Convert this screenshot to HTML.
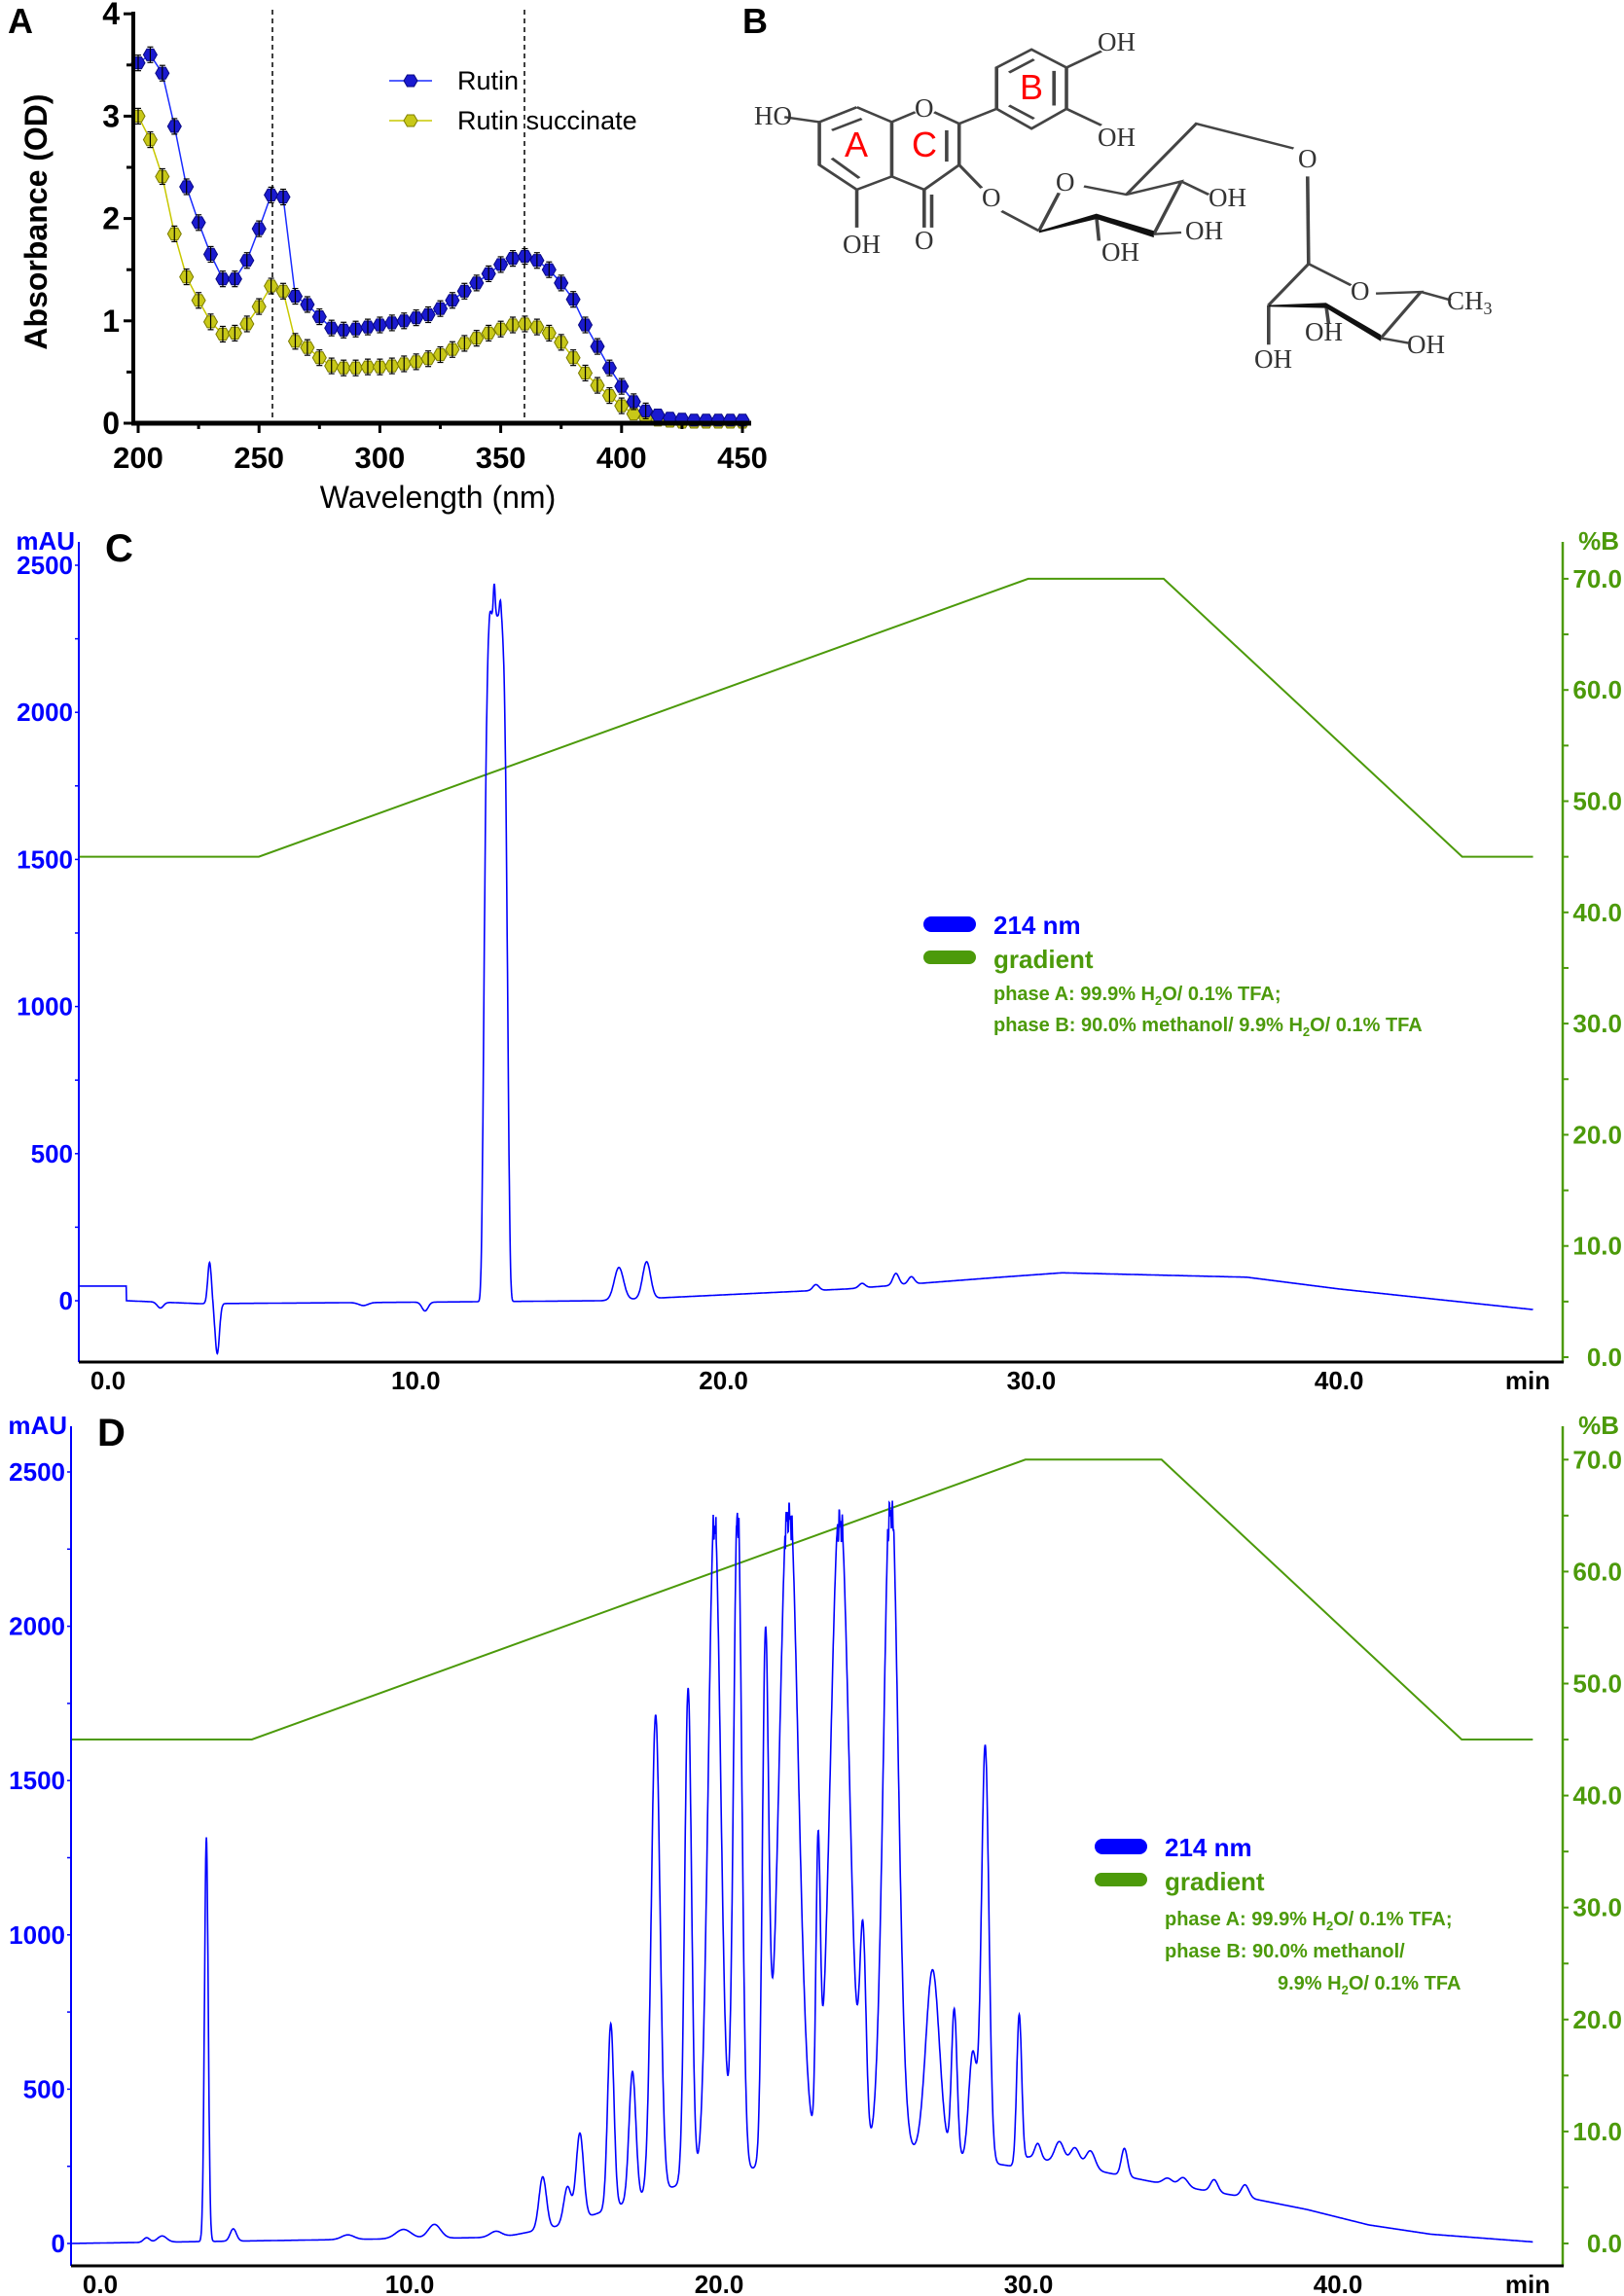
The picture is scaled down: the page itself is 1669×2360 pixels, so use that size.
<!DOCTYPE html>
<html><head><meta charset="utf-8"><style>
html,body{margin:0;padding:0;background:#fff}
svg{display:block}
.ser{font-family:"Liberation Serif",serif;fill:#333;font-size:27px}
.tk{font-family:"Liberation Sans",sans-serif;font-weight:bold}
</style></head><body>
<svg id="s" width="1669" height="2360" viewBox="0 0 1669 2360" xmlns="http://www.w3.org/2000/svg">
<rect width="1669" height="2360" fill="#fff"/>
<text x="8" y="34" font-family="Liberation Sans" font-weight="bold" font-size="36">A</text>
<g id="A"></g>
<text transform="translate(48,228) rotate(-90)" text-anchor="middle" font-family="Liberation Sans" font-weight="bold" font-size="32">Absorbance (OD)</text>
<text x="450" y="522" text-anchor="middle" font-family="Liberation Sans" font-size="32">Wavelength (nm)</text>
<line x1="400" y1="83" x2="444" y2="83" stroke="#1a2cff" stroke-width="1.5"/>
<polygon points="415,83 418.5,77 425.5,77 429,83 425.5,89 418.5,89" fill="#1a1ad0" stroke="#0a0a80"/>
<line x1="400" y1="124" x2="444" y2="124" stroke="#c8c800" stroke-width="1.5"/>
<polygon points="415,124 418.5,118 425.5,118 429,124 425.5,130 418.5,130" fill="#c8c818" stroke="#808000"/>
<text x="470" y="92" font-family="Liberation Sans" font-size="27">Rutin</text>
<text x="470" y="133" font-family="Liberation Sans" font-size="27">Rutin succinate</text>
<text x="763" y="34" font-family="Liberation Sans" font-weight="bold" font-size="36">B</text>
<g transform="translate(760,0) scale(0.513,0.339)" stroke="#444" stroke-width="7" fill="none">
<polyline points="235,325 160,370 160,500 235,575 305,535 305,370 235,325"/>
<polyline points="305,370 352,340"/><polyline points="390,340 440,375 440,500 370,575 305,535"/>
<line x1="245" y1="360" x2="185" y2="395"/><line x1="185" y1="480" x2="240" y2="540"/><line x1="415" y1="395" x2="415" y2="490"/>
<line x1="370" y1="575" x2="370" y2="690"/><line x1="385" y1="590" x2="385" y2="690"/>
<line x1="235" y1="575" x2="235" y2="690"/><line x1="160" y1="370" x2="90" y2="355"/>
<polyline points="440,375 515,330 515,205 585,150 655,205 655,330 585,390 515,330"/>
<line x1="540" y1="220" x2="590" y2="180"/><line x1="630" y1="215" x2="630" y2="320"/><line x1="590" y1="360" x2="540" y2="320"/>
<line x1="655" y1="205" x2="725" y2="155"/><line x1="655" y1="330" x2="725" y2="380"/>
<line x1="440" y1="500" x2="485" y2="570"/><line x1="525" y1="640" x2="600" y2="700"/>
<polyline points="600,700 640,585"/><polyline points="690,565 775,590 885,550 830,710"/>
<line x1="885" y1="550" x2="940" y2="590"/><line x1="830" y1="710" x2="885" y2="705"/><line x1="715" y1="655" x2="720" y2="730"/>
<polyline points="775,590 915,375 1110,450"/><line x1="1138" y1="535" x2="1140" y2="800"/>
<polyline points="1060,925 1140,800 1225,865"/><polyline points="1275,890 1365,885 1285,1025"/>
<line x1="1365" y1="885" x2="1425" y2="910"/>
<line x1="1060" y1="925" x2="1060" y2="1045"/><line x1="1175" y1="925" x2="1180" y2="980"/><line x1="1285" y1="1025" x2="1340" y2="1040"/>
</g>
<g transform="translate(760,0) scale(0.513,0.339)" fill="#111">
<polygon points="600,700 715,648 830,700 830,720 715,664 600,706"/>
<polygon points="1060,925 1175,918 1285,1015 1285,1035 1175,934 1060,930"/>
</g>
<text class="ser" x="775" y="128">HO</text>
<text class="ser" x="940" y="120">O</text>
<text class="ser" x="1128" y="52">OH</text>
<text class="ser" x="1128" y="150">OH</text>
<text class="ser" x="866" y="260">OH</text>
<text class="ser" x="940" y="256">O</text>
<text class="ser" x="1009" y="212">O</text>
<text class="ser" x="1085" y="196">O</text>
<text class="ser" x="1242" y="212">OH</text>
<text class="ser" x="1218" y="246">OH</text>
<text class="ser" x="1132" y="268">OH</text>
<text class="ser" x="1334" y="172">O</text>
<text class="ser" x="1388" y="308">O</text>
<text class="ser" x="1487" y="318">CH<tspan font-size="18" dy="5">3</tspan></text>
<text class="ser" x="1341" y="350">OH</text>
<text class="ser" x="1289" y="378">OH</text>
<text class="ser" x="1446" y="363">OH</text>
<text x="880" y="161" fill="#ff0000" font-family="Liberation Sans" font-size="36" text-anchor="middle">A</text>
<text x="950" y="161" fill="#ff0000" font-family="Liberation Sans" font-size="36" text-anchor="middle">C</text>
<text x="1060" y="102" fill="#ff0000" font-family="Liberation Sans" font-size="36" text-anchor="middle">B</text>
<g id="C"></g>
<g id="D"></g>
</svg>
<script>
var S=document.getElementById('s'),NS='http://www.w3.org/2000/svg';
function el(p,t,a,txt){var e=document.createElementNS(NS,t);for(var k in a)e.setAttribute(k,a[k]);if(txt!==undefined)e.textContent=txt;p.appendChild(e);return e;}
var A=document.getElementById('A');
var R=[3.52,3.6,3.42,2.9,2.31,1.96,1.65,1.41,1.41,1.59,1.90,2.23,2.21,1.24,1.16,1.04,0.93,0.91,0.92,0.94,0.96,0.98,1.0,1.03,1.06,1.12,1.2,1.29,1.37,1.46,1.55,1.61,1.63,1.59,1.5,1.37,1.21,0.96,0.75,0.54,0.36,0.21,0.12,0.08,0.05,0.04,0.03,0.03,0.03,0.03,0.03];
var RS=[3.0,2.77,2.41,1.85,1.43,1.2,0.99,0.87,0.88,0.97,1.14,1.34,1.29,0.8,0.74,0.64,0.56,0.54,0.54,0.55,0.55,0.56,0.58,0.60,0.63,0.67,0.72,0.78,0.83,0.88,0.92,0.96,0.97,0.94,0.88,0.79,0.64,0.49,0.37,0.27,0.17,0.09,0.05,0.03,0.02,0.01,0.01,0.01,0.01,0.01,0.01];
function AX(w){return 142+(w-200)*2.484}function AY(v){return 435-v*105.2}
el(A,'line',{x1:280,y1:10,x2:280,y2:435,stroke:'#000','stroke-width':1.5,'stroke-dasharray':'5,4'});
el(A,'line',{x1:539,y1:10,x2:539,y2:435,stroke:'#000','stroke-width':1.5,'stroke-dasharray':'5,4'});
function series(d,col,fill,stk){var p='';d.forEach(function(v,i){p+=(i?'L':'M')+AX(200+5*i).toFixed(1)+','+AY(v).toFixed(1);});
el(A,'path',{d:p,fill:'none',stroke:col,'stroke-width':1.5});
d.forEach(function(v,i){var x=AX(200+5*i),y=AY(v),r=7;
el(A,'polygon',{points:[[x-r,y],[x-r/2,y-r*0.87],[x+r/2,y-r*0.87],[x+r,y],[x+r/2,y+r*0.87],[x-r/2,y+r*0.87]].map(function(q){return q[0].toFixed(1)+','+q[1].toFixed(1)}).join(' '),fill:fill,stroke:stk,'stroke-width':1});
if(v>0.1){el(A,'line',{x1:x,y1:y-8,x2:x,y2:y+8,stroke:'#000','stroke-width':1.2});el(A,'line',{x1:x-3,y1:y-8,x2:x+3,y2:y-8,stroke:'#000','stroke-width':1.2});el(A,'line',{x1:x-3,y1:y+8,x2:x+3,y2:y+8,stroke:'#000','stroke-width':1.2});}});}
series(RS,'#c8c800','#c8c818','#7a7a00');
series(R,'#1a2cff','#1a1ad0','#0a0a80');
el(A,'line',{x1:137,y1:12,x2:137,y2:437,stroke:'#000','stroke-width':4});
el(A,'line',{x1:135,y1:435,x2:772,y2:435,stroke:'#000','stroke-width':5});
for(var i=0;i<=8;i++){var y=AY(i/2);el(A,'line',{x1:i%2?130:127,y1:y,x2:137,y2:y,stroke:'#000','stroke-width':3});if(i%2==0)el(A,'text',{x:123,y:y+11,'text-anchor':'end','class':'tk','font-size':32},i/2);}
for(var w=200;w<=450;w+=25){var x=AX(w);el(A,'line',{x1:x,y1:435,x2:x,y2:w%50?441:445,stroke:'#000','stroke-width':3});if(w%50==0)el(A,'text',{x:x,y:481,'text-anchor':'middle','class':'tk','font-size':31},w);}
function G(t,c,a,s){var d=(t-c)/s;return a*Math.exp(-0.5*d*d);}
function PL(pts,t){for(var i=0;i<pts.length-1;i++){if(t<=pts[i+1][0]){var f=(t-pts[i][0])/(pts[i+1][0]-pts[i][0]);return pts[i][1]+f*(pts[i+1][1]-pts[i][1]);}}return pts[pts.length-1][1];}
function fC(t){var b=t<0.6?50:PL([[0.6,0],[3,-10],[10,-5],[16,0],[20,20],[24,40],[29,80],[31,95],[37,80],[40,40],[46.3,-30]],t);
var v=b+G(t,3.3,140,0.06)-G(t,3.55,170,0.07)-G(t,1.7,20,0.1)-G(t,10.3,30,0.1)-G(t,8.3,10,0.15);
var d=(t-12.6)/0.4;v+=2330*Math.exp(-Math.pow(d*d,3))+G(t,12.55,110,0.03)+G(t,12.75,60,0.03)+G(t,12.4,40,0.04);
v+=G(t,16.6,110,0.15)+G(t,17.5,125,0.13)+G(t,23,20,0.1)+G(t,25.6,40,0.1)+G(t,26.1,25,0.1)+G(t,24.5,15,0.1);return v;}
var PD=[[3.43,1310,0.06],[4.3,40,0.1],[1.5,15,0.1],[2.0,20,0.15],[8.0,15,0.2],[9.8,30,0.25],[10.8,45,0.2],[12.8,20,0.2],[14.3,170,0.12],[15.1,120,0.12],[15.5,280,0.12],[16.5,600,0.1],[17.2,420,0.11],[17.95,1550,0.14],[19.0,1600,0.11],[19.85,2150,0.2],[20.6,2200,0.13],[21.5,1650,0.1],[22.25,2200,0.3],[23.2,900,0.07],[23.9,2100,0.3],[24.65,650,0.1],[25.55,2200,0.23],[26.9,600,0.22],[27.6,480,0.09],[28.2,350,0.13],[28.6,1350,0.12],[29.7,480,0.08],[30.3,50,0.1],[31.0,70,0.15],[31.5,60,0.15],[32.0,60,0.15],[33.1,90,0.1],[34.5,20,0.15],[35.0,30,0.15],[36.0,40,0.12],[37.0,40,0.12]];
function fD(t){var b=PL([[-1,0],[13,20],[14,40],[15,60],[17,130],[19,200],[24,300],[26,300],[29.5,250],[30,280],[34,200],[37,150],[39,110],[41,60],[43,30],[46.3,5]],t);var v=b;
PD.forEach(function(p){v+=G(t,p[0],p[1],p[2]);});if(v>2300)v=2300+(v-2300)*0.35+60*Math.sin(t*97)*Math.sin(t*31);return v;}
function chart(id,o){var g=document.getElementById(id);
var X=function(t){return o.x0+o.px*t},Y=function(v){return o.y0-v*o.py},YB=function(b){return o.yb0-b*o.pb};
var gp=[[o.ts,45],[4.9,45],[29.9,70],[34.3,70],[44,45],[46.3,45]];
el(g,'path',{d:gp.map(function(q,i){return (i?'L':'M')+X(q[0]).toFixed(1)+','+YB(q[1]).toFixed(1)}).join(''),fill:'none',stroke:'#4c9a0a','stroke-width':2});
var p='';for(var t=o.ts;t<=46.3;t+=0.01){p+=(p?'L':'M')+X(t).toFixed(1)+','+Y(o.f(t)).toFixed(1);}
el(g,'path',{d:p,fill:'none',stroke:'#0000ff','stroke-width':1.6});
el(g,'line',{x1:o.xl,y1:o.top,x2:o.xl,y2:o.bot,stroke:'#0000ff','stroke-width':2});
el(g,'line',{x1:1606,y1:o.top,x2:1606,y2:o.bot,stroke:'#4c9a0a','stroke-width':2.5});
el(g,'line',{x1:o.xl,y1:o.bot,x2:1607,y2:o.bot,stroke:'#000','stroke-width':3});
for(var v=0;v<=2500;v+=250){var y=Y(v);el(g,'line',{x1:o.xl-4,y1:y,x2:o.xl,y2:y,stroke:'#0000ff','stroke-width':1.5});if(v%500==0)el(g,'text',{x:o.xl-6,y:y+9,'text-anchor':'end','class':'tk','font-size':26,fill:'#0000ff'},v);}
for(var b=0;b<=70;b+=5){var y=YB(b);el(g,'line',{x1:1606,y1:y,x2:1612,y2:y,stroke:'#4c9a0a','stroke-width':2});if(b%10==0)el(g,'text',{x:1667,y:y+9,'text-anchor':'end','class':'tk','font-size':26,fill:'#4c9a0a'},b.toFixed(1));}
for(var t=0;t<=40;t+=10){el(g,'text',{x:X(t),y:o.bot+28,'text-anchor':'middle','class':'tk','font-size':26},t.toFixed(1));}
el(g,'text',{x:1570,y:o.bot+28,'text-anchor':'middle','class':'tk','font-size':26},'min');
el(g,'text',{x:o.xl-4,y:o.top+8,'text-anchor':'end','class':'tk','font-size':26,fill:'#0000ff'},'mAU');
el(g,'text',{x:1664,y:o.top+8,'text-anchor':'end','class':'tk','font-size':26,fill:'#4c9a0a'},'%B');
el(g,'text',{x:o.xl+27,y:o.top+20,'class':'tk','font-size':40},o.lab);
var lx=o.lx,ly=o.ly;
el(g,'rect',{x:lx,y:ly-8,width:54,height:16,rx:8,fill:'#0000ff'});
el(g,'rect',{x:lx,y:ly+27,width:54,height:14,rx:7,fill:'#4c9a0a'});
el(g,'text',{x:lx+72,y:ly+10,'class':'tk','font-size':26,fill:'#0000ff'},'214 nm');
el(g,'text',{x:lx+72,y:ly+45,'class':'tk','font-size':26,fill:'#4c9a0a'},'gradient');
o.lines.forEach(function(L){var t=el(g,'text',{x:lx+72+(L[2]||0),y:ly+L[1],'class':'tk','font-size':20,fill:'#4c9a0a'});t.innerHTML=L[0];});
}
var sub='<tspan font-size="13" dy="5">2</tspan><tspan dy="-5">';
chart('C',{f:fC,ts:-0.95,x0:111,px:31.63,y0:1337,py:0.3024,yb0:1395,pb:11.43,xl:81,top:557,bot:1400,lab:'C',lx:949,ly:950,
lines:[['phase A: 99.9% H'+sub+'O/ 0.1% TFA;</tspan>',78],['phase B: 90.0% methanol/ 9.9% H'+sub+'O/ 0.1% TFA</tspan>',110]]});
chart('D',{f:fD,ts:-0.94,x0:103,px:31.8,y0:2306,py:0.3172,yb0:2306,pb:11.51,xl:73,top:1466,bot:2329,lab:'D',lx:1125,ly:1898,
lines:[['phase A: 99.9% H'+sub+'O/ 0.1% TFA;</tspan>',81],['phase B: 90.0% methanol/</tspan>',114],['9.9% H'+sub+'O/ 0.1% TFA</tspan>',147,116]]});
</script>
</body></html>
